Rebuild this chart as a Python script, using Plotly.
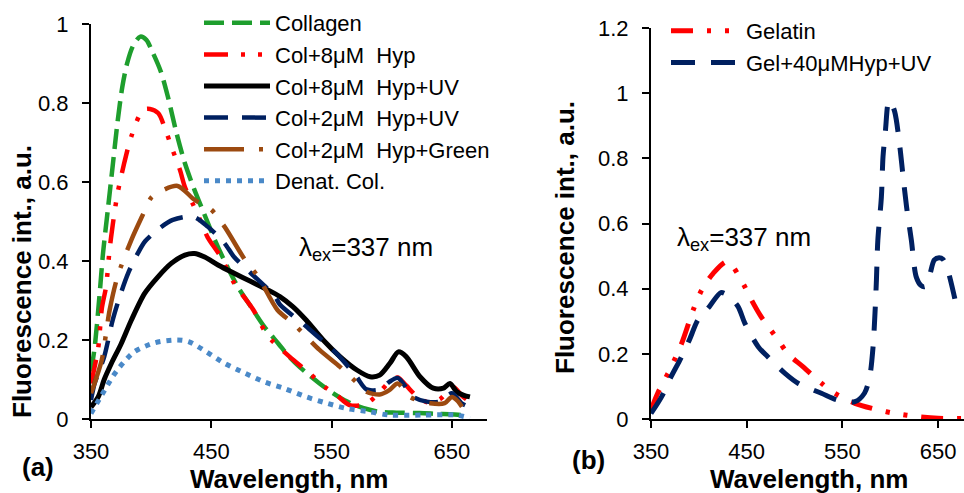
import plotly.graph_objects as go

# ---------------- data: panel (a) ----------------
collagen_x = [350, 353, 357, 360, 364, 368, 372, 376, 380, 385, 391, 396, 401, 408, 414, 421, 428, 436, 444,
              453, 461, 472, 483, 494, 506, 514, 524, 540, 551, 563, 576, 590, 604, 623, 637, 657, 662]
collagen_y = [0.12, 0.18, 0.31, 0.42, 0.53, 0.64, 0.75, 0.84, 0.90, 0.945, 0.968, 0.96, 0.93, 0.88, 0.815, 0.725,
              0.648, 0.58, 0.52, 0.453, 0.40, 0.335, 0.284, 0.234, 0.19, 0.16, 0.13, 0.09, 0.066, 0.044, 0.028,
              0.018, 0.016, 0.015, 0.013, 0.01, 0.006]

hyp8_x = [350, 356, 359, 362.5, 365.5, 368, 372, 377, 383.5, 393, 399, 406, 411, 417, 424, 428, 435, 442, 447,
          458, 469, 485, 494, 500, 515, 530, 545, 554, 565, 575, 582, 592, 600, 605, 612, 620, 630, 640, 648,
          652, 658, 662]
hyp8_y = [0.09, 0.18, 0.28, 0.335, 0.43, 0.49, 0.57, 0.64, 0.715, 0.782, 0.785, 0.774, 0.74, 0.688, 0.63,
          0.588, 0.542, 0.495, 0.46, 0.41, 0.344, 0.276, 0.225, 0.20, 0.158, 0.12, 0.08, 0.061, 0.035, 0.035,
          0.045, 0.075, 0.1, 0.105, 0.085, 0.06, 0.042, 0.05, 0.075, 0.08, 0.06, 0.05]

hyp8uv_x = [350, 356, 361, 367, 375, 383.5, 394.6, 405.7, 416.7, 428, 436, 444.5, 455.6, 469, 483, 497, 507,
            518, 529, 543, 557, 571, 582, 590, 598.5, 605.5, 612, 623.5, 634.5, 643, 648.4, 654, 660, 665]
hyp8uv_y = [0.03, 0.056, 0.10, 0.141, 0.19, 0.25, 0.318, 0.36, 0.394, 0.415, 0.419, 0.41, 0.39, 0.369, 0.348,
            0.327, 0.31, 0.284, 0.25, 0.2, 0.158, 0.124, 0.107, 0.111, 0.141, 0.17, 0.158, 0.107, 0.078, 0.078,
            0.09, 0.069, 0.06, 0.056]

hyp2uv_x = [350, 353, 361, 368, 375, 381, 389, 395, 407, 418, 435, 447, 461, 469, 483, 503, 507, 529, 554,
            570, 579, 590, 598, 605, 618, 629, 640, 650, 658, 661]
hyp2uv_y = [0.048, 0.09, 0.158, 0.25, 0.32, 0.37, 0.42, 0.45, 0.483, 0.504, 0.512, 0.487, 0.445, 0.41, 0.369,
            0.31, 0.29, 0.234, 0.166, 0.11, 0.075, 0.075, 0.094, 0.104, 0.056, 0.044, 0.044, 0.065, 0.04, 0.035]

hyp2green_x = [350, 354, 359, 365.5, 372, 383.5, 392, 400, 407, 422, 436, 450, 461, 478, 489, 505, 518, 540,
               557, 570, 579, 590, 598, 605, 615, 632, 644, 650, 655, 660]
hyp2green_y = [0.065, 0.10, 0.15, 0.276, 0.36, 0.453, 0.51, 0.56, 0.575, 0.59, 0.555, 0.53, 0.487, 0.403,
               0.36, 0.276, 0.242, 0.175, 0.132, 0.095, 0.069, 0.062, 0.073, 0.09, 0.056, 0.04, 0.04, 0.056,
               0.045, 0.023]

denat_x = [350, 359, 368, 374, 386, 403, 421, 431, 446, 461, 478, 494, 511, 529, 546, 562, 582, 598, 626, 654, 665]
denat_y = [0.014, 0.061, 0.107, 0.132, 0.17, 0.193, 0.2, 0.196, 0.17, 0.141, 0.116, 0.094, 0.077, 0.056, 0.04,
           0.027, 0.018, 0.01, 0.01, 0.01, 0.002]

# ---------------- data: panel (b) ----------------
gelatin_x = [350, 357, 369.5, 382, 394, 403, 415, 430, 448, 455, 465, 483, 493, 509, 528, 542, 563, 587, 605,
             629, 650, 677]
gelatin_y = [0.028, 0.079, 0.15, 0.232, 0.334, 0.396, 0.447, 0.483, 0.406, 0.365, 0.314, 0.242, 0.2, 0.16,
             0.11, 0.079, 0.048, 0.028, 0.017, 0.007, 0.002, 0.002]

gelhyp_x = [350, 361, 371, 380, 390, 399, 411, 423, 430, 441, 448, 462, 472, 490, 504, 528, 545, 563, 573,
            578.5, 582, 584, 585.5, 587, 590.7, 592.4, 595, 597.6, 599.5, 604.6, 610, 613, 617, 622, 627, 632,
            636, 641, 646, 651, 655, 660, 667, 670]
gelhyp_y = [0.017, 0.068, 0.13, 0.18, 0.242, 0.304, 0.345, 0.388, 0.38, 0.345, 0.294, 0.222, 0.191, 0.14,
            0.109, 0.079, 0.058, 0.053, 0.079, 0.13, 0.222, 0.324, 0.426, 0.549, 0.682, 0.805, 0.887, 0.968,
            0.978, 0.943, 0.835, 0.754, 0.651, 0.549, 0.437, 0.41, 0.406, 0.44, 0.488, 0.495, 0.49, 0.457,
            0.375, 0.334]

x_ticks = [350, 450, 550, 650]

FONT = "Liberation Sans, Arial, sans-serif"

fig = go.Figure()


def add(x, y, name, color, dash, width, xa, ya, legend):
    fig.add_trace(go.Scatter(
        x=x, y=y, name=name, mode="lines",
        line=dict(color=color, dash=dash, width=width, shape="spline", smoothing=0.8),
        xaxis=xa, yaxis=ya, legend=legend))


add(collagen_x, collagen_y, "Collagen", "#1E9E2D", "20px,8px", 4.5, "x", "y", "legend")
add(hyp8_x, hyp8_y, "Col+8μM  Hyp", "#FF0000", "24px,13px,4px,13px,4px,13px", 4.5, "x", "y", "legend")
add(hyp8uv_x, hyp8uv_y, "Col+8μM  Hyp+UV", "#000000", "solid", 5, "x", "y", "legend")
add(hyp2uv_x, hyp2uv_y, "Col+2μM  Hyp+UV", "#002060", "24px,14px", 4.5, "x", "y", "legend")
add(hyp2green_x, hyp2green_y, "Col+2μM  Hyp+Green", "#9C4A10", "40px,15px,4px,15px", 4.5, "x", "y", "legend")
add(denat_x, denat_y, "Denat. Col.", "#4A89C8", "5px,6px", 5, "x", "y", "legend")

add(gelatin_x, gelatin_y, "Gelatin", "#FF0000", "22px,14px,4px,14px,4px,14px", 5, "x2", "y2", "legend2")
add(gelhyp_x, gelhyp_y, "Gel+40μMHyp+UV", "#002060", "24px,16px", 5, "x2", "y2", "legend2")

W, H = 964, 493

axis_common = dict(
    showline=True, linecolor="black", linewidth=2, showgrid=False, zeroline=False,
    ticks="outside", ticklen=7, tickwidth=2, tickcolor="black",
    tickfont=dict(family=FONT, size=22, color="black"),
    automargin=False,
)

fig.update_layout(
    template="none",
    width=W, height=H,
    margin=dict(l=0, r=0, t=0, b=0, autoexpand=False),
    paper_bgcolor="white", plot_bgcolor="white",
    font=dict(family=FONT, color="black"),
    xaxis=dict(domain=[91 / W, 487 / W], range=[350, 679.2], tickvals=x_ticks, anchor="y",
               ticklabelstandoff=5, **axis_common),
    yaxis=dict(domain=[(H - 419) / H, (H - 24) / H], range=[0, 1], dtick=0.2, tick0=0, anchor="x",
               ticklabelstandoff=9, **axis_common),
    xaxis2=dict(domain=[651 / W, 1.0], range=[350, 677], tickvals=x_ticks, anchor="y2",
                ticklabelstandoff=5, **axis_common),
    yaxis2=dict(domain=[(H - 419) / H, (H - 28) / H], range=[0, 1.2], dtick=0.2, tick0=0, anchor="x2",
                ticklabelstandoff=9, **axis_common),
    legend=dict(x=199 / W, y=1 - 2 / H, xanchor="left", yanchor="top", bgcolor="rgba(0,0,0,0)",
                font=dict(family=FONT, size=22, color="black"), itemwidth=66, tracegroupgap=0),
    legend2=dict(x=666 / W, y=1 - 10 / H, xanchor="left", yanchor="top", bgcolor="rgba(0,0,0,0)",
                 font=dict(family=FONT, size=22, color="black"), itemwidth=70, tracegroupgap=0),
    showlegend=True,
)

ann = []
title_font = dict(family=FONT, size=26, color="black")
ann.append(dict(text="<b>Wavelength, nm</b>", x=289 / W, y=1 - 479 / H, xref="paper", yref="paper",
                showarrow=False, font=title_font, xanchor="center", yanchor="middle"))
ann.append(dict(text="<b>Wavelength, nm</b>", x=809 / W, y=1 - 479 / H, xref="paper", yref="paper",
                showarrow=False, font=title_font, xanchor="center", yanchor="middle"))
ann.append(dict(text="<b>Fluorescence int., a.u.</b>", x=22 / W, y=1 - 282 / H, xref="paper", yref="paper",
                showarrow=False, font=title_font, textangle=-90, xanchor="center", yanchor="middle"))
ann.append(dict(text="<b>Fluorescence int., a.u.</b>", x=565 / W, y=1 - 238 / H, xref="paper", yref="paper",
                showarrow=False, font=title_font, textangle=-90, xanchor="center", yanchor="middle"))
ann.append(dict(text="<b>(a)</b>", x=38 / W, y=1 - 467 / H, xref="paper", yref="paper",
                showarrow=False, font=title_font, xanchor="center", yanchor="middle"))
ann.append(dict(text="<b>(b)</b>", x=588 / W, y=1 - 460 / H, xref="paper", yref="paper",
                showarrow=False, font=title_font, xanchor="center", yanchor="middle"))
lam_font = dict(family=FONT, size=26, color="black")
ann.append(dict(text="λ<sub>ex</sub>=337 nm", x=297 / W, y=1 - 248 / H, xref="paper", yref="paper",
                showarrow=False, font=lam_font, xanchor="left", yanchor="middle"))
ann.append(dict(text="λ<sub>ex</sub>=337 nm", x=675 / W, y=1 - 238 / H, xref="paper", yref="paper",
                showarrow=False, font=lam_font, xanchor="left", yanchor="middle"))
fig.update_layout(annotations=ann)

fig.write_html("out.html", config={"displayModeBar": False},
               post_script="document.body.style.margin='0';")
